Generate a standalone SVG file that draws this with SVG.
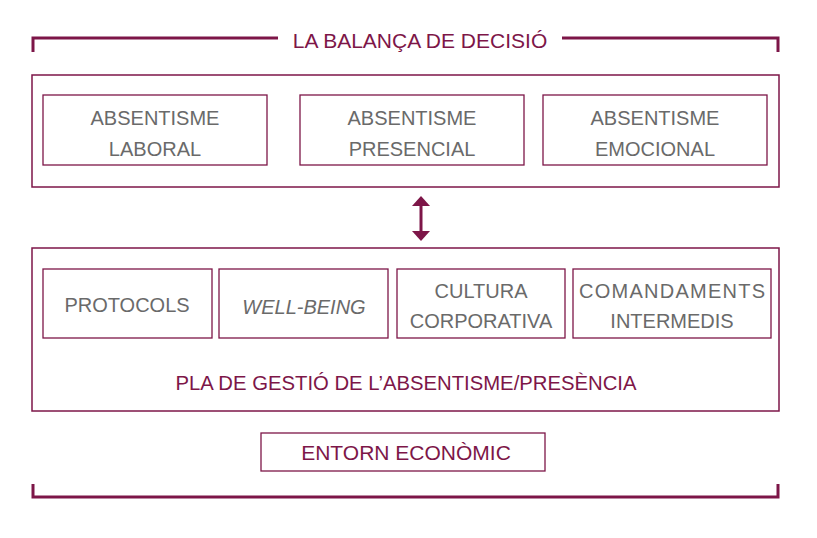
<svg xmlns="http://www.w3.org/2000/svg" width="817" height="538" viewBox="0 0 817 538">
<style>
.frame{fill:none;stroke:#7d1648;stroke-width:1.5}
.box{fill:#fff;stroke:#7d1648;stroke-width:1.3}
.br{fill:none;stroke:#7d1648;stroke-width:3}
.g{font-family:"Liberation Sans",Arial,sans-serif;font-size:20px;fill:#6a6a6a;text-anchor:middle}
.m{font-family:"Liberation Sans",Arial,sans-serif;font-size:21px;fill:#7d1648;text-anchor:middle}
</style>
<defs>
<marker id="ah" viewBox="0 0 10 18" refX="8" refY="9" markerWidth="10" markerHeight="18" orient="auto-start-reverse" markerUnits="userSpaceOnUse">
<path d="M0,0 L10,9 L0,18 z" fill="#7d1648"/>
</marker>
</defs>
<rect width="817" height="538" fill="#fff"/>
<g id="top-bracket">
<path class="br" d="M33,52 V38 H278 M562,38 H778 V52"/>
<text class="m" x="420" y="48">LA BALANÇA DE DECISIÓ</text>
</g>
<g id="balanca">
<rect class="frame" x="32" y="75" width="747" height="112"/>
</g>
<g id="abs-laboral">
<rect class="box" x="43" y="95" width="224" height="70"/>
<text class="g" x="155" y="125">ABSENTISME</text>
<text class="g" x="155" y="156">LABORAL</text>
</g>
<g id="abs-presencial">
<rect class="box" x="300" y="95" width="224" height="70"/>
<text class="g" x="412" y="125">ABSENTISME</text>
<text class="g" x="412" y="156">PRESENCIAL</text>
</g>
<g id="abs-emocional">
<rect class="box" x="543" y="95" width="224" height="70"/>
<text class="g" x="655" y="125">ABSENTISME</text>
<text class="g" x="655" y="156">EMOCIONAL</text>
</g>
<g id="connectors">
<line x1="421" y1="198" x2="421" y2="239" stroke="#7d1648" stroke-width="3" marker-start="url(#ah)" marker-end="url(#ah)"/>
</g>
<g id="pla">
<rect class="frame" x="32" y="248" width="747" height="163"/>
<text class="m" x="406" y="390" style="font-size:20.3px">PLA DE GESTIÓ DE L’ABSENTISME/PRESÈNCIA</text>
</g>
<g id="protocols">
<rect class="box" x="43" y="269" width="169" height="69"/>
<text class="g" x="127" y="312">PROTOCOLS</text>
</g>
<g id="well-being">
<rect class="box" x="219" y="269" width="169" height="69"/>
<text class="g" x="304" y="314" font-style="italic">WELL-BEING</text>
</g>
<g id="cultura">
<rect class="box" x="397" y="269" width="168" height="69"/>
<text class="g" x="481" y="298">CULTURA</text>
<text class="g" x="481" y="328">CORPORATIVA</text>
</g>
<g id="comandaments">
<rect class="box" x="573" y="269" width="198" height="69"/>
<text class="g" x="672" y="298" textLength="186" lengthAdjust="spacing">COMANDAMENTS</text>
<text class="g" x="672" y="328">INTERMEDIS</text>
</g>
<g id="entorn">
<rect class="box" x="261" y="433" width="284" height="38"/>
<text class="m" x="406" y="460">ENTORN ECONÒMIC</text>
</g>
<g id="bottom-bracket">
<path class="br" d="M33,484 V497 H778 V484"/>
</g>
</svg>
